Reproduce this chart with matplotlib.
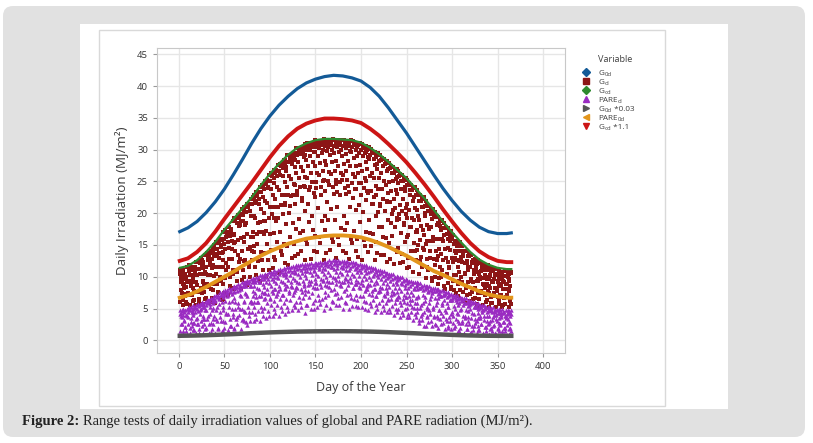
import numpy as np
import matplotlib.pyplot as plt
from matplotlib.patches import FancyBboxPatch, Rectangle
from matplotlib.lines import Line2D
from matplotlib.transforms import IdentityTransform

# smooth reference curves
curve_days = [1, 10, 20, 30, 40, 50, 60, 70, 80, 90, 100, 110, 120, 130, 140, 150, 160, 170, 180,
              190, 200, 210, 220, 230, 240, 250, 260, 270, 280, 290, 300, 310, 320, 330, 340, 350,
              360, 365]
g0d = [17.1, 17.7, 18.7, 20.1, 21.8, 23.8, 26.1, 28.5, 31.0, 33.3, 35.3, 37.0, 38.4, 39.6, 40.5,
       41.1, 41.5, 41.7, 41.6, 41.3, 40.8, 39.8, 38.4, 36.6, 34.6, 32.6, 30.4, 28.2, 26.0, 23.9,
       22.0, 20.3, 18.9, 17.8, 17.1, 16.8, 16.8, 16.9]
gcd = [11.4, 11.7, 12.6, 13.9, 15.5, 17.4, 19.1, 20.8, 22.5, 24.4, 26.2, 27.8, 29.2, 30.3, 31.0,
       31.5, 31.7, 31.7, 31.6, 31.5, 31.1, 30.3, 29.3, 28.1, 26.8, 25.5, 23.9, 22.3, 20.5, 18.7,
       17.0, 15.4, 13.9, 12.7, 11.9, 11.4, 11.2, 11.2]
g0d_003 = [0.71, 0.73, 0.76, 0.80, 0.85, 0.91, 0.97, 1.04, 1.12, 1.18, 1.24, 1.29, 1.33, 1.37, 1.39,
           1.41, 1.42, 1.43, 1.43, 1.42, 1.40, 1.37, 1.33, 1.28, 1.22, 1.16, 1.10, 1.03, 0.97, 0.91,
           0.85, 0.80, 0.76, 0.73, 0.71, 0.70, 0.70, 0.70]
pare0d = [6.7, 7.1, 7.7, 8.4, 9.2, 10.0, 10.8, 11.7, 12.5, 13.3, 14.0, 14.6, 15.2, 15.6, 16.0,
          16.2, 16.4, 16.5, 16.5, 16.4, 16.2, 15.8, 15.3, 14.7, 14.0, 13.3, 12.5, 11.7, 10.9, 10.3,
          9.6, 8.9, 8.3, 7.7, 7.2, 6.9, 6.7, 6.7]
gcd_11 = [12.5, 12.9, 13.9, 15.3, 17.1, 19.1, 21.0, 22.9, 24.8, 26.8, 28.8, 30.6, 32.1, 33.3, 34.1,
          34.6, 34.9, 34.9, 34.8, 34.6, 34.2, 33.3, 32.2, 30.9, 29.5, 28.0, 26.3, 24.5, 22.6, 20.6,
          18.7, 16.9, 15.3, 14.0, 13.1, 12.5, 12.3, 12.3]

# measured daily values (day 1..365), three readings per day for each series
gd_top = [
    11.1, 9.8, 10.7, 8.9, 11.0, 9.6, 10.5, 8.4, 11.5, 9.4,
    11.5, 10.3, 11.2, 9.4, 11.6, 10.2, 11.2, 9.2, 12.3, 10.3,
    12.4, 11.2, 12.1, 10.5, 12.7, 11.3, 12.3, 10.4, 13.5, 11.6,
    13.7, 12.6, 13.5, 11.9, 14.1, 12.8, 13.8, 11.9, 15.0, 13.2,
    15.4, 14.3, 15.3, 13.7, 16.0, 14.7, 15.8, 13.9, 17.0, 15.1,
    17.3, 16.2, 17.1, 15.5, 17.8, 16.4, 17.5, 15.6, 18.7, 16.8,
    19.2, 18.7, 19.3, 18.5, 19.7, 19.2, 19.8, 18.7, 20.6, 19.7,
    20.9, 20.4, 21.0, 20.2, 21.4, 20.9, 21.5, 20.4, 22.3, 21.4,
    22.6, 22.2, 22.8, 22.0, 23.3, 22.7, 23.3, 22.3, 24.2, 23.3,
    24.5, 24.1, 24.6, 23.8, 25.1, 24.6, 25.2, 24.1, 26.0, 25.1,
    26.3, 25.8, 26.4, 25.5, 26.8, 26.3, 26.8, 25.8, 27.6, 26.7,
    27.8, 27.4, 27.9, 27.1, 28.3, 27.7, 28.3, 27.2, 29.1, 28.1,
    29.2, 28.7, 29.2, 28.3, 29.5, 28.9, 29.4, 28.3, 30.2, 29.2,
    30.3, 29.7, 30.2, 29.3, 30.4, 29.8, 30.3, 29.1, 30.9, 29.9,
    31.0, 30.4, 30.9, 29.9, 31.1, 30.4, 30.9, 29.7, 31.5, 30.4,
    31.4, 30.8, 31.3, 30.3, 31.4, 30.7, 31.2, 30.0, 31.7, 30.6,
    31.6, 31.0, 31.4, 30.4, 31.5, 30.8, 31.2, 30.0, 31.7, 30.6,
    31.6, 31.0, 31.4, 30.4, 31.5, 30.7, 31.1, 29.9, 31.6, 30.5,
    31.5, 30.9, 31.3, 30.3, 31.4, 30.6, 31.0, 29.8, 31.5, 30.4,
    31.4, 30.7, 31.1, 30.0, 31.1, 30.4, 30.7, 29.5, 31.1, 30.0,
    30.9, 30.2, 30.6, 29.5, 30.5, 29.7, 30.0, 28.8, 30.4, 29.2,
    30.1, 29.4, 29.7, 28.6, 29.6, 28.8, 29.1, 27.8, 29.4, 28.2,
    29.1, 28.4, 28.7, 27.5, 28.5, 27.7, 28.0, 26.7, 28.2, 27.0,
    27.9, 27.1, 27.4, 26.3, 27.2, 26.4, 26.7, 25.4, 26.9, 25.7,
    26.6, 25.9, 26.1, 25.0, 26.0, 25.1, 25.4, 24.1, 25.6, 24.4,
    25.2, 24.5, 24.7, 23.6, 24.5, 23.6, 23.9, 22.5, 24.1, 22.8,
    23.6, 22.9, 23.1, 22.0, 22.9, 22.0, 22.3, 20.9, 22.5, 21.2,
    22.0, 21.2, 21.5, 20.3, 21.2, 20.3, 20.5, 19.1, 20.7, 19.4,
    20.2, 19.4, 19.6, 18.5, 19.4, 18.5, 18.7, 17.3, 18.9, 17.6,
    18.4, 17.6, 17.9, 16.7, 17.6, 16.8, 17.0, 15.6, 17.2, 15.9,
    16.5, 15.1, 15.7, 13.8, 15.7, 14.0, 14.8, 12.5, 15.4, 13.1,
    14.9, 13.5, 14.1, 12.2, 14.1, 12.5, 13.2, 11.0, 13.8, 11.6,
    13.5, 12.1, 12.7, 10.8, 12.8, 11.2, 12.0, 9.7, 12.6, 10.4,
    12.3, 10.9, 11.7, 9.8, 11.8, 10.2, 11.0, 8.9, 11.8, 9.6,
    11.5, 10.2, 10.9, 9.1, 11.1, 9.6, 10.4, 8.3, 11.2, 9.1,
    11.1, 9.8, 10.5, 8.7, 10.8, 9.3, 10.1, 8.0, 11.0, 8.9,
    10.9, 9.6, 10.4, 8.6, 10.7,
]
gd_mid = [
    10.5, 7.9, 9.5, 6.3, 10.9, 8.6, 7.3, 9.9, 5.7, 9.2,
    11.8, 7.2, 8.6, 11.1, 8.2, 10.0, 6.4, 11.6, 9.1, 7.6,
    11.2, 5.8, 10.4, 12.9, 7.5, 9.1, 12.1, 8.7, 10.8, 6.7,
    13.7, 10.3, 8.4, 12.3, 6.0, 11.3, 14.4, 7.9, 10.1, 13.6,
    10.4, 13.2, 7.6, 15.4, 11.5, 9.3, 13.7, 6.5, 12.6, 16.0,
    9.8, 12.2, 16.5, 11.6, 14.6, 8.5, 17.1, 12.8, 10.4, 15.3,
    8.2, 15.4, 19.3, 10.8, 13.5, 18.0, 12.8, 16.1, 9.5, 18.7,
    15.4, 12.5, 18.2, 9.0, 16.8, 21.0, 11.8, 14.7, 19.6, 14.0,
    16.3, 19.5, 14.8, 19.2, 21.6, 16.8, 18.5, 21.4, 18.6, 20.6,
    17.1, 22.5, 20.0, 18.7, 21.9, 17.2, 21.6, 23.9, 19.2, 20.9,
    23.8, 20.9, 22.9, 19.3, 24.8, 22.3, 20.9, 24.1, 19.3, 23.7,
    26.0, 21.3, 22.9, 25.8, 22.9, 24.9, 21.3, 26.7, 24.2, 22.8,
    25.9, 21.2, 25.4, 27.7, 22.9, 24.6, 27.3, 24.4, 26.4, 22.8,
    28.1, 25.5, 24.1, 27.2, 22.4, 26.6, 28.9, 24.1, 25.7, 28.4,
    25.5, 27.4, 23.7, 29.0, 26.4, 24.9, 28.0, 23.2, 27.4, 29.6,
    24.9, 26.4, 29.0, 26.0, 27.9, 24.1, 29.4, 26.7, 25.2, 28.2,
    23.5, 27.6, 29.8, 25.0, 26.5, 29.1, 26.1, 28.0, 24.2, 29.5,
    26.7, 25.2, 28.2, 23.4, 27.5, 29.7, 24.9, 26.4, 29.0, 26.0,
    27.8, 24.0, 29.3, 26.7, 25.2, 28.2, 23.3, 27.4, 29.7, 24.8,
    26.1, 28.7, 25.7, 27.5, 23.8, 29.0, 26.3, 24.8, 27.6, 22.9,
    26.6, 29.0, 24.0, 25.5, 28.1, 25.1, 27.0, 23.2, 28.5, 25.8,
    23.5, 26.3, 21.5, 25.5, 27.6, 22.8, 24.3, 26.9, 23.8, 25.6,
    21.2, 26.4, 23.8, 22.2, 25.1, 20.3, 24.4, 26.6, 21.8, 23.2,
    24.9, 21.7, 23.5, 19.8, 25.0, 22.3, 20.8, 23.7, 19.0, 23.0,
    24.8, 19.9, 21.3, 23.8, 20.4, 22.2, 18.5, 23.5, 20.8, 19.2,
    21.5, 16.5, 20.5, 22.8, 17.9, 19.3, 21.9, 18.9, 20.8, 17.1,
    20.5, 17.0, 15.0, 19.0, 12.5, 18.0, 21.0, 14.5, 16.5, 20.0,
    15.1, 18.1, 11.6, 20.3, 15.7, 13.0, 17.8, 9.4, 16.3, 19.9,
    11.9, 14.1, 18.1, 13.2, 16.0, 9.8, 18.0, 13.6, 11.1, 15.7,
    8.6, 14.4, 17.7, 10.3, 12.3, 16.0, 11.4, 14.2, 8.4, 15.9,
    12.3, 10.2, 14.0, 7.4, 12.7, 15.5, 8.9, 10.7, 14.1, 9.9,
    12.4, 7.6, 14.0, 10.6, 8.6, 12.2, 5.9, 11.0, 13.6, 7.3,
    9.7, 12.4, 9.1, 11.0, 6.7, 12.4, 9.4, 7.5, 10.8, 5.4,
    10.0, 12.1, 7.4, 8.8, 11.2, 8.2, 9.9, 6.3, 11.3, 8.6,
    7.5, 10.1, 5.8, 9.4, 11.3, 7.0, 8.2, 10.5, 7.8, 9.4,
    6.4, 10.8, 8.5, 7.2, 9.7, 5.6, 9.1, 10.9, 6.8, 8.1,
    10.3, 7.7, 9.3, 6.2, 10.6,
]
gd_low = [
    6.1, 9.1, 7.5, 10.2, 5.6, 8.3, 6.9, 6.1, 9.1, 7.5,
    10.9, 5.6, 8.7, 7.2, 6.2, 9.7, 7.8, 10.9, 5.6, 8.7,
    7.6, 6.5, 10.5, 8.3, 11.9, 5.7, 9.4, 7.6, 6.5, 10.5,
    8.9, 13.3, 5.9, 10.2, 8.0, 6.7, 11.5, 8.9, 13.3, 5.9,
    11.5, 8.9, 7.4, 13.0, 10.0, 15.0, 6.4, 11.5, 8.9, 7.4,
    14.4, 11.1, 16.6, 7.2, 12.8, 10.0, 8.3, 14.4, 11.1, 16.6,
    8.1, 14.0, 11.1, 9.3, 15.8, 12.3, 18.2, 8.1, 14.0, 11.1,
    9.9, 16.2, 12.7, 18.4, 8.7, 14.4, 11.6, 9.9, 16.2, 12.7,
    17.0, 9.3, 13.9, 11.6, 10.2, 15.2, 12.5, 17.0, 9.3, 13.9,
    12.7, 11.1, 16.8, 13.7, 18.8, 10.1, 15.2, 12.7, 11.1, 16.8,
    14.2, 19.8, 11.3, 16.9, 13.1, 12.6, 18.7, 15.4, 20.9, 10.6,
    17.1, 14.0, 13.5, 19.9, 15.2, 21.6, 12.2, 18.3, 14.8, 11.8,
    20.1, 16.3, 22.7, 12.9, 18.4, 15.1, 13.2, 21.4, 17.5, 23.5,
    13.6, 19.1, 16.9, 14.0, 22.0, 17.2, 24.3, 12.6, 20.3, 15.8,
    15.2, 21.5, 18.6, 24.2, 12.8, 19.6, 17.3, 14.1, 22.6, 16.4,
    23.9, 13.9, 20.8, 16.2, 15.3, 22.9, 18.8, 25.1, 12.7, 19.5,
    17.4, 13.8, 21.7, 18.9, 24.4, 14.2, 20.6, 16.1, 15.5, 23.1,
    18.9, 24.6, 12.9, 21.0, 16.3, 15.0, 22.8, 17.6, 25.2, 14.1,
    19.5, 17.3, 13.7, 23.0, 18.5, 24.3, 12.8, 20.9, 16.0, 15.3,
    22.4, 17.2, 23.8, 14.0, 20.5, 16.0, 13.1, 21.3, 18.6, 24.8,
    12.7, 20.2, 15.8, 14.9, 22.1, 17.1, 23.5, 13.9, 18.9, 16.9,
    14.9, 21.4, 16.7, 22.6, 12.6, 19.6, 15.4, 13.7, 20.2, 17.9,
    21.5, 13.5, 17.8, 16.2, 13.4, 20.4, 16.1, 22.0, 12.4, 18.9,
    15.3, 12.8, 18.4, 16.4, 20.5, 12.0, 17.9, 14.2, 13.9, 19.3,
    14.5, 19.1, 12.2, 16.9, 13.6, 12.3, 18.2, 15.5, 19.9, 11.3,
    16.3, 13.0, 11.6, 17.8, 14.0, 19.3, 10.7, 15.3, 14.0, 12.6,
    17.4, 14.2, 19.5, 10.5, 15.8, 13.1, 11.5, 17.4, 14.2, 19.5,
    9.8, 15.7, 12.8, 11.0, 17.5, 14.0, 19.9, 9.8, 15.7, 12.8,
    10.0, 16.0, 12.7, 18.2, 8.9, 14.3, 11.6, 10.0, 16.0, 12.7,
    16.5, 8.0, 13.0, 10.5, 9.0, 14.5, 11.5, 16.5, 8.0, 13.0,
    9.3, 7.9, 13.0, 10.2, 14.8, 7.0, 11.6, 9.3, 7.9, 13.0,
    9.1, 13.3, 6.2, 10.4, 8.3, 7.1, 11.6, 9.1, 13.3, 6.2,
    9.4, 7.6, 6.5, 10.5, 8.3, 11.9, 5.7, 9.4, 7.6, 6.5,
    9.7, 7.7, 11.0, 5.5, 8.7, 7.1, 6.1, 9.7, 7.7, 11.0,
    5.3, 8.2, 6.8, 5.9, 9.1, 7.4, 10.3, 5.3, 8.2, 6.8,
    5.7, 8.9, 7.2, 10.0, 5.2, 8.0, 6.6, 5.7, 8.9, 7.2,
    10.0, 5.2, 8.0, 6.6, 5.7,
]
pare_top = [
    4.7, 4.3, 4.7, 4.0, 5.0, 4.4, 4.7, 4.0, 5.0, 4.5,
    5.2, 4.8, 5.2, 4.5, 5.5, 4.9, 5.3, 4.5, 5.6, 5.0,
    5.7, 5.4, 5.7, 5.0, 6.0, 5.5, 5.9, 5.2, 6.1, 5.6,
    6.3, 6.0, 6.4, 5.7, 6.7, 6.2, 6.6, 5.9, 6.9, 6.4,
    7.1, 6.8, 7.2, 6.5, 7.6, 7.1, 7.4, 6.8, 7.7, 7.2,
    7.9, 7.5, 7.9, 7.2, 8.2, 7.7, 8.1, 7.3, 8.4, 7.8,
    8.5, 8.2, 8.5, 7.8, 8.9, 8.4, 8.7, 8.0, 9.1, 8.5,
    9.2, 8.8, 9.2, 8.5, 9.5, 9.0, 9.3, 8.6, 9.7, 9.1,
    9.8, 9.4, 9.7, 9.1, 10.0, 9.5, 9.9, 9.1, 10.2, 9.6,
    10.3, 9.9, 10.2, 9.6, 10.5, 10.0, 10.4, 9.6, 10.7, 10.1,
    10.8, 10.4, 10.7, 10.0, 11.0, 10.4, 10.8, 10.0, 11.1, 10.5,
    11.2, 10.8, 11.1, 10.5, 11.4, 10.8, 11.2, 10.4, 11.5, 10.9,
    11.5, 11.1, 11.5, 10.8, 11.7, 11.1, 11.5, 10.7, 11.8, 11.2,
    11.8, 11.4, 11.8, 11.1, 12.0, 11.4, 11.7, 10.9, 12.0, 11.4,
    12.0, 11.6, 12.0, 11.3, 12.2, 11.6, 11.9, 11.1, 12.2, 11.6,
    12.2, 11.8, 12.2, 11.5, 12.4, 11.8, 12.1, 11.3, 12.4, 11.8,
    12.4, 12.0, 12.4, 11.7, 12.6, 12.0, 12.3, 11.5, 12.6, 12.0,
    12.6, 12.2, 12.5, 11.8, 12.7, 12.1, 12.4, 11.5, 12.5, 11.9,
    12.5, 12.1, 12.4, 11.7, 12.5, 11.9, 12.2, 11.4, 12.3, 11.7,
    12.3, 11.9, 12.2, 11.4, 12.2, 11.6, 11.9, 11.1, 12.0, 11.4,
    11.9, 11.5, 11.8, 11.0, 11.9, 11.3, 11.5, 10.7, 11.6, 10.9,
    11.5, 11.0, 11.3, 10.5, 11.4, 10.8, 11.0, 10.2, 11.1, 10.5,
    11.0, 10.6, 10.9, 10.1, 10.9, 10.3, 10.6, 9.8, 10.6, 10.0,
    10.5, 10.1, 10.4, 9.6, 10.4, 9.8, 10.0, 9.2, 10.1, 9.5,
    10.0, 9.6, 9.9, 9.0, 9.9, 9.3, 9.5, 8.7, 9.6, 9.0,
    9.5, 9.1, 9.4, 8.6, 9.4, 8.8, 9.1, 8.3, 9.2, 8.6,
    9.1, 8.7, 9.0, 8.2, 9.0, 8.4, 8.6, 7.9, 8.7, 8.1,
    8.6, 8.2, 8.5, 7.8, 8.5, 7.9, 8.2, 7.4, 8.3, 7.7,
    8.2, 7.8, 8.1, 7.3, 8.1, 7.5, 7.7, 6.9, 7.9, 7.2,
    7.7, 7.3, 7.6, 6.8, 7.6, 7.0, 7.2, 6.4, 7.3, 6.7,
    7.2, 6.8, 7.1, 6.3, 7.1, 6.5, 6.7, 5.9, 6.8, 6.2,
    6.7, 6.3, 6.6, 5.8, 6.6, 6.0, 6.2, 5.4, 6.3, 5.7,
    6.2, 5.8, 6.1, 5.3, 6.1, 5.5, 5.7, 4.9, 5.8, 5.1,
    5.6, 5.2, 5.5, 4.8, 5.6, 5.0, 5.3, 4.5, 5.3, 4.7,
    5.2, 4.8, 5.1, 4.4, 5.2, 4.6, 4.8, 4.0, 4.9, 4.3,
    4.9, 4.5, 4.8, 4.0, 4.9, 4.3, 4.5, 3.8, 4.7, 4.1,
    4.7, 4.3, 4.6, 3.9, 4.8,
]
pare_mid = [
    4.2, 2.5, 3.6, 1.5, 4.6, 3.0, 2.1, 4.0, 1.0, 3.6,
    5.0, 1.9, 2.9, 4.7, 2.7, 4.0, 1.6, 5.1, 3.4, 2.5,
    4.6, 1.2, 4.1, 5.7, 2.3, 3.4, 5.3, 3.3, 4.7, 2.0,
    5.8, 3.8, 2.6, 5.2, 1.3, 4.8, 6.6, 2.5, 3.9, 6.2,
    3.4, 5.2, 1.8, 6.6, 4.4, 3.0, 6.0, 1.5, 5.2, 7.5,
    2.9, 4.3, 7.0, 4.1, 6.0, 2.2, 7.6, 4.9, 3.6, 6.6,
    1.9, 6.1, 8.4, 3.6, 5.2, 7.9, 4.9, 6.9, 3.2, 8.5,
    6.0, 4.6, 7.5, 2.9, 7.0, 9.1, 4.5, 6.0, 8.6, 5.8,
    7.8, 6.1, 8.6, 7.4, 6.8, 8.2, 6.0, 8.0, 9.1, 6.9,
    7.6, 8.9, 7.5, 8.4, 6.6, 9.2, 8.0, 7.3, 9.0, 6.7,
    8.6, 9.7, 7.4, 8.1, 9.4, 8.1, 9.0, 7.3, 9.8, 8.6,
    8.0, 9.4, 7.2, 9.1, 10.2, 8.1, 8.8, 10.0, 8.6, 9.5,
    7.8, 10.3, 9.1, 8.4, 9.8, 7.6, 9.5, 10.6, 8.4, 9.2,
    10.4, 9.0, 9.9, 8.1, 10.6, 9.4, 8.8, 10.2, 7.9, 9.8,
    10.9, 8.7, 9.4, 10.7, 9.3, 10.2, 8.4, 10.9, 9.7, 9.0,
    10.4, 8.2, 10.1, 11.2, 8.9, 9.6, 10.9, 9.5, 10.4, 8.7,
    11.2, 10.0, 9.3, 10.7, 8.4, 10.3, 11.5, 9.2, 9.9, 11.2,
    9.8, 10.7, 8.9, 11.3, 10.1, 9.4, 10.8, 8.5, 10.4, 11.4,
    9.2, 9.8, 11.1, 9.6, 10.5, 8.7, 11.1, 9.8, 9.1, 10.5,
    8.2, 10.1, 11.2, 8.8, 9.5, 10.7, 9.2, 10.1, 8.3, 10.8,
    9.5, 8.7, 10.1, 7.8, 9.7, 10.6, 8.1, 8.8, 10.0, 8.7,
    9.5, 7.7, 10.1, 8.8, 8.0, 9.4, 7.0, 9.0, 10.0, 7.7,
    8.4, 9.6, 8.2, 9.0, 7.1, 9.5, 8.2, 7.4, 8.8, 6.5,
    8.4, 9.4, 7.1, 7.7, 8.9, 7.5, 8.3, 6.5, 8.9, 7.6,
    6.9, 8.2, 6.0, 7.8, 8.8, 6.5, 7.1, 8.3, 6.8, 7.6,
    5.9, 8.2, 7.0, 6.3, 7.6, 5.3, 7.1, 8.0, 5.8, 6.6,
    8.1, 5.1, 6.9, 3.2, 8.3, 5.6, 4.2, 7.2, 2.3, 6.2,
    8.4, 3.8, 5.2, 7.6, 4.7, 6.5, 3.0, 7.8, 5.3, 3.9,
    6.7, 2.4, 6.0, 7.9, 3.5, 4.8, 7.0, 4.3, 5.9, 2.7,
    7.2, 4.7, 3.4, 5.9, 1.9, 5.3, 7.3, 3.0, 4.2, 6.4,
    3.9, 5.4, 2.3, 6.6, 4.3, 3.0, 5.5, 1.4, 4.7, 6.6,
    2.7, 3.8, 5.9, 3.5, 4.8, 1.8, 5.9, 3.7, 2.5, 4.9,
    1.3, 4.3, 6.0, 2.3, 3.4, 5.3, 3.0, 4.3, 1.6, 5.3,
    3.5, 2.5, 4.4, 1.2, 3.9, 5.3, 2.1, 3.1, 4.6, 2.7,
    3.9, 1.7, 4.8, 3.2, 2.3, 4.0, 1.1, 3.4, 4.8, 1.8,
    2.8, 4.3, 2.6, 3.6, 1.5, 4.5, 2.9, 2.0, 3.8, 0.9,
    3.3, 4.6, 1.8, 2.7, 4.2,
]
pare_low = [
    1.5, 3.9, 2.6, 4.8, 1.0, 3.2, 2.1, 1.5, 3.9, 2.6,
    5.3, 1.1, 3.5, 2.3, 1.6, 4.3, 2.8, 5.3, 1.1, 3.5,
    2.5, 1.7, 4.7, 3.0, 5.7, 1.1, 3.8, 2.5, 1.7, 4.7,
    3.3, 6.3, 1.2, 4.2, 2.7, 1.8, 5.1, 3.3, 6.3, 1.2,
    4.7, 3.0, 2.0, 5.7, 3.7, 7.1, 1.4, 4.7, 3.0, 2.0,
    6.2, 4.1, 7.6, 1.6, 5.2, 3.4, 2.3, 6.2, 4.1, 7.6,
    1.8, 5.0, 3.4, 2.5, 5.9, 4.0, 7.2, 1.8, 5.0, 3.4,
    3.0, 6.2, 4.4, 7.3, 2.4, 5.3, 3.8, 3.0, 6.2, 4.4,
    7.0, 3.0, 5.3, 4.1, 3.4, 6.0, 4.6, 7.0, 3.0, 5.3,
    4.6, 3.9, 6.5, 5.1, 7.4, 3.5, 5.8, 4.6, 3.9, 6.5,
    5.5, 7.8, 3.9, 6.2, 5.0, 4.3, 6.9, 5.5, 7.8, 3.9,
    6.5, 5.3, 4.6, 7.2, 5.8, 8.2, 4.2, 6.5, 5.3, 4.6,
    7.4, 6.4, 8.5, 4.7, 7.1, 5.5, 5.2, 7.9, 6.0, 8.3,
    4.8, 6.8, 6.0, 5.3, 7.6, 6.6, 8.6, 4.3, 7.3, 5.6,
    5.5, 7.7, 6.8, 8.9, 4.9, 7.4, 5.8, 5.0, 8.2, 6.3,
    9.0, 5.3, 7.1, 6.4, 5.7, 8.4, 6.5, 9.3, 4.8, 7.6,
    6.8, 5.5, 8.6, 7.2, 9.2, 5.1, 7.9, 6.2, 6.0, 8.1,
    7.3, 9.5, 5.6, 7.4, 6.7, 5.5, 8.7, 6.8, 9.1, 5.0,
    7.8, 6.1, 5.9, 8.1, 7.1, 9.4, 5.0, 7.3, 6.6, 5.4,
    8.3, 6.5, 8.9, 5.4, 7.2, 6.4, 5.2, 8.4, 6.9, 9.0,
    5.2, 6.9, 6.2, 5.0, 8.0, 6.1, 8.5, 4.7, 7.3, 5.8,
    5.4, 7.2, 6.3, 8.1, 4.4, 7.0, 5.5, 4.9, 7.6, 5.9,
    7.8, 4.4, 6.4, 5.4, 4.8, 7.0, 5.8, 7.8, 4.4, 6.4,
    5.0, 4.4, 6.5, 5.4, 7.3, 4.0, 5.9, 5.0, 4.4, 6.5,
    4.9, 6.8, 3.6, 5.5, 4.5, 4.0, 6.0, 4.9, 6.8, 3.6,
    5.1, 4.1, 3.6, 5.7, 4.5, 6.4, 3.2, 5.1, 4.1, 3.6,
    5.8, 4.4, 6.8, 2.8, 5.1, 3.9, 3.2, 5.8, 4.4, 6.8,
    2.3, 5.0, 3.7, 2.9, 5.9, 4.2, 7.0, 2.3, 5.0, 3.7,
    2.5, 5.6, 3.9, 6.7, 2.0, 4.8, 3.4, 2.5, 5.6, 3.9,
    6.4, 1.7, 4.5, 3.1, 2.2, 5.3, 3.6, 6.4, 1.7, 4.5,
    2.8, 2.0, 5.0, 3.3, 6.0, 1.4, 4.1, 2.8, 2.0, 5.0,
    3.0, 5.6, 1.2, 3.8, 2.5, 1.7, 4.6, 3.0, 5.6, 1.2,
    3.5, 2.3, 1.6, 4.2, 2.8, 5.2, 1.1, 3.5, 2.3, 1.6,
    3.9, 2.6, 4.8, 1.0, 3.2, 2.1, 1.5, 3.9, 2.6, 4.8,
    1.0, 3.1, 2.0, 1.4, 3.7, 2.4, 4.5, 1.0, 3.1, 2.0,
    1.4, 3.5, 2.4, 4.3, 1.0, 2.9, 2.0, 1.4, 3.5, 2.4,
    4.3, 1.0, 2.9, 2.0, 1.4,
]

# legend entries: (text, is_subscript) pieces
legend_parts = [
    [('G', False), ('0d', True)],
    [('G', False), ('d', True)],
    [('G', False), ('cd', True)],
    [('PARE', False), ('d', True)],
    [('G', False), ('0d', True), (' *0.03', False)],
    [('PARE', False), ('0d', True)],
    [('G', False), ('cd', True), (' *1.1', False)],
]

plt.rcParams['font.family'] = ['Open Sans', 'DejaVu Sans']

W, H = 813, 443
fig = plt.figure(figsize=(W / 100, H / 100), dpi=100)

# page background: grey rounded card, white panel, thin frame round the graph
fig.add_artist(FancyBboxPatch((3, 6), 802, 431, boxstyle='round,pad=0,rounding_size=10',
                              transform=IdentityTransform(), facecolor='#e1e1e1',
                              edgecolor='none', zorder=-3))
fig.add_artist(Rectangle((80, H - 409), 648, 385, transform=IdentityTransform(),
                         facecolor='white', edgecolor='none', zorder=-2))
fig.add_artist(Rectangle((99, H - 406), 566, 376, transform=IdentityTransform(),
                         facecolor='white', edgecolor='#d9d9d9', lw=1, zorder=-1))

ax = fig.add_axes([157 / W, 1 - 353 / H, 408 / W, 305 / H])

c_blue, c_dred, c_green = '#135a97', '#8c1616', '#2e8a2e'
c_purple, c_gray, c_orange, c_red = '#9a2bc2', '#555555', '#e3961c', '#cc1515'


def days_of(vals):
    return np.arange(1, len(vals) + 1)


ax.plot(curve_days, g0d, color=c_blue, lw=2.3, zorder=3)
for vals in (gd_top, gd_mid, gd_low):
    ax.scatter(days_of(vals), vals, s=6.5, marker='s', color=c_dred, linewidths=0, zorder=4)
ax.plot(curve_days, gcd, color=c_green, lw=1.6, zorder=5)
for vals in (pare_top, pare_mid, pare_low):
    ax.scatter(days_of(vals), vals, s=10, marker='^', color=c_purple, linewidths=0, zorder=6)
ax.plot(curve_days, g0d_003, color=c_gray, lw=3.2, zorder=7)
ax.plot(curve_days, pare0d, color=c_orange, lw=2.8, zorder=8)
ax.plot(curve_days, gcd_11, color=c_red, lw=2.8, zorder=9)

ax.set_xlim(-24, 424)
ax.set_ylim(-2, 46)
ax.set_xticks(range(0, 401, 50))
ax.set_yticks(range(0, 46, 5))
ax.grid(True, color='#e6e6e6', lw=1)
ax.set_axisbelow(True)
for sp in ax.spines.values():
    sp.set_color('#c8c8c8')
ax.tick_params(colors='#9a9a9a', labelcolor='#333333', labelsize=6.8, length=3, width=0.8)
ax.set_xlabel('Day of the Year', fontsize=9, color='#3a3a3a', labelpad=7)
ax.set_ylabel('Daily Irradiation (MJ/m²)', fontsize=9.6, color='#3a3a3a', labelpad=6)

renderer = fig.canvas.get_renderer()

# legend, drawn entry by entry to keep the tight Minitab spacing
markers = ['D', 's', 'D', '^', '>', '<', 'v']
colors = [c_blue, c_dred, c_green, c_purple, c_gray, c_orange, c_red]
fig.text(598 / W, 1 - 59 / H, 'Variable', fontsize=6.6, color='#404040', va='center')
for i, (parts, mk, col) in enumerate(zip(legend_parts, markers, colors)):
    yc = H - (72 + i * 9.0)
    fig.add_artist(Line2D([586], [yc], transform=IdentityTransform(), ls='none',
                          marker=mk, ms=3.9 if mk in 'Ds' else 4.5, color=col))
    x = 598
    for txt, sub in parts:
        t = fig.text(x / W, (yc - 2.6 - (1.4 if sub else 0)) / H, txt,
                     fontsize=4.3 if sub else 5.9, color='#404040', va='baseline')
        x = t.get_window_extent(renderer).x1 + 0.4

# caption below the panel
cap1 = fig.text(22 / W, 1 - 421 / H, 'Figure 2:', fontsize=10.5, fontweight='bold',
                family=['Liberation Serif', 'DejaVu Serif'], va='center', color='#222222')
bb = cap1.get_window_extent(renderer)
fig.text((bb.x1 + 3.5) / W, 1 - 421 / H,
         'Range tests of daily irradiation values of global and PARE radiation (MJ/m²).',
         fontsize=10.5, family=['Liberation Serif', 'DejaVu Serif'], va='center', color='#222222')

fig.savefig('out.png', dpi=100)
